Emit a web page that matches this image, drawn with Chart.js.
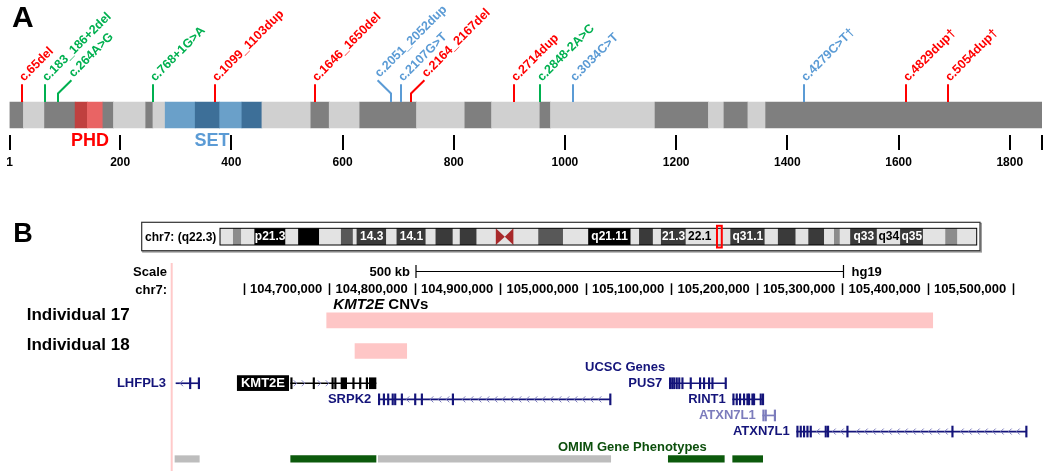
<!DOCTYPE html>
<html>
<head>
<meta charset="utf-8">
<script src="https://cdn.jsdelivr.net/npm/chart.js@4.4.1/dist/chart.umd.min.js"></script>
<style>
  body { margin: 0; background: #fff; width: 1050px; height: 471px; position: relative; overflow: hidden; }
  canvas { position: absolute; left: 0; }
  #protein { top: 0; }
  #ideo { top: 215px; }
  #genome { top: 255px; }
</style>
</head>
<body>
<canvas id="protein" width="1050" height="200"></canvas>
<canvas id="ideo" width="1050" height="42"></canvas>
<canvas id="genome" width="1050" height="216"></canvas>
<script>
// ---------- panel A: KMT2E protein (amino acids) ----------
const proteinLength = 1858;
const axisTicks = [1, 200, 400, 600, 800, 1000, 1200, 1400, 1600, 1800];
const segStart = [1, 26, 64, 119, 141, 169, 188, 246, 259, 281, 335, 379, 419, 455, 543, 576, 631, 733, 820, 868, 955, 974, 1162, 1258, 1286, 1329, 1361];
const segEnd   = [26, 64, 119, 141, 169, 188, 246, 259, 281, 335, 379, 419, 455, 543, 576, 631, 733, 820, 868, 955, 974, 1162, 1258, 1286, 1329, 1361, 1858];
const segKind  = ['dark', 'light', 'dark', 'phdDark', 'phdLight', 'dark', 'light', 'dark', 'light', 'setLight', 'setDark', 'setLight', 'setDark',
                  'light', 'dark', 'light', 'dark', 'light', 'dark', 'light', 'dark', 'light', 'dark', 'light', 'dark', 'light', 'dark'];
const domainNames = ['PHD', 'SET'];
const domainCenter = [146, 365];

const variantLabels = ['c.65del', 'c.183_186+2del', 'c.264A>G', 'c.768+1G>A', 'c.1099_1103dup', 'c.1646_1650del', 'c.2051_2052dup',
                       'c.2107G>T', 'c.2164_2167del', 'c.2714dup', 'c.2848-2A>C', 'c.3034C>T', 'c.4279C>T†', 'c.4829dup†', 'c.5054dup†'];
const variantPos  = [23, 64, 88, 259, 370, 550, 688, 705, 724, 908, 955, 1014, 1430, 1614, 1689];
const variantType = ['fs', 'splice', 'splice', 'splice', 'fs', 'fs', 'ms', 'ms', 'fs', 'fs', 'splice', 'ms', 'ms', 'fs', 'fs'];

// ---------- panel B: chr7 ideogram (Mb, hg19) ----------
const bandNames = ['p22.3', 'p22.2', 'p22.1', 'p21.3', 'p21.2', 'p21.1', 'p15.3', 'p15.2', 'p15.1', 'p14.3', 'p14.2', 'p14.1', 'p13', 'p12.3', 'p12.2',
                   'p12.1', 'p11.2', 'p11.1', 'q11.1', 'q11.21', 'q11.22', 'q11.23', 'q21.11', 'q21.12', 'q21.13', 'q21.2', 'q21.3', 'q22.1', 'q22.2',
                   'q22.3', 'q31.1', 'q31.2', 'q31.31', 'q31.32', 'q31.33', 'q32.1', 'q32.2', 'q32.3', 'q33', 'q34', 'q35', 'q36.1', 'q36.2', 'q36.3'];
const bandStart = [0, 2.8, 4.5, 7.3, 13.8, 16.5, 20.9, 25.5, 28.0, 28.8, 35.0, 37.2, 43.3, 45.4, 49.0, 50.5, 54.0, 58.0, 59.9, 61.7, 67.0, 72.2,
                   77.5, 86.4, 88.2, 91.1, 92.8, 98.0, 103.8, 104.5, 107.4, 114.6, 117.4, 121.1, 123.8, 127.1, 129.2, 130.4, 132.6, 138.2, 143.1,
                   147.9, 152.6, 155.1];
const bandEnd = [2.8, 4.5, 7.3, 13.8, 16.5, 20.9, 25.5, 28.0, 28.8, 35.0, 37.2, 43.3, 45.4, 49.0, 50.5, 54.0, 58.0, 59.9, 61.7, 67.0, 72.2, 77.5,
                 86.4, 88.2, 91.1, 92.8, 98.0, 103.8, 104.5, 107.4, 114.6, 117.4, 121.1, 123.8, 127.1, 129.2, 130.4, 132.6, 138.2, 143.1, 147.9,
                 152.6, 155.1, 159.14];
const bandStain = ['gneg', 'gpos25', 'gneg', 'gpos100', 'gneg', 'gpos100', 'gneg', 'gpos50', 'gneg', 'gpos75', 'gneg', 'gpos75', 'gneg', 'gpos75',
                   'gneg', 'gpos75', 'gneg', 'acen', 'acen', 'gneg', 'gpos50', 'gneg', 'gpos100', 'gneg', 'gpos75', 'gneg', 'gpos75', 'gneg', 'gneg',
                   'gneg', 'gpos75', 'gneg', 'gpos75', 'gneg', 'gpos75', 'gneg', 'gpos25', 'gneg', 'gpos75', 'gneg', 'gpos75', 'gneg', 'gpos25', 'gneg'];
const bandTextOf = ['p21.3', 'p14.3', 'p14.1', 'q21.11', 'q21.3', 'q22.1', 'q31.1', 'q33', 'q34', 'q35'];
const bandText   = ['p21.3', '14.3', '14.1', 'q21.11', '21.3', '22.1', 'q31.1', 'q33', 'q34', 'q35'];
const viewedRegionMb = [104.52, 105.53];

// ---------- panel B: browser tracks (bp, hg19) ----------
const genomeTicks = [104600000, 104700000, 104800000, 104900000, 105000000, 105100000, 105200000, 105300000, 105400000, 105500000];
const scaleBarStart = 104801400;
const scaleBarLength = 500000;

const cnvLabels = ['Individual 17', 'Individual 18'];
const cnvStart = [104696960, 104730060];
const cnvEnd   = [105405740, 104790530];
const cnvRow   = [0.1, 2];

const geneNames  = ['LHFPL3', 'KMT2E', 'SRPK2', 'PUS7', 'RINT1', 'ATXN7L1', 'ATXN7L1'];
const geneStart  = [104520700, 104654850, 104757310, 105097660, 105171810, 105206900, 105246670];
const geneEnd    = [104547950, 104754620, 105029120, 105163630, 105207610, 105221290, 105515680];
const geneRow    = [4, 4, 5, 4, 5, 6, 7];
const geneStrand = ['-', '+', '-', '-', '+', '-', '-'];
const geneExons = [
  [[104536400, 104537800], [104546600, 104547950]],
  [[104654850, 104656200], [104681000, 104682300], [104703000, 104704300], [104706200, 104707500], [104713680, 104720350],
   [104727400, 104728700], [104735300, 104736600], [104743100, 104744400], [104746780, 104754620]],
  [[104757310, 104759000], [104763000, 104764200], [104768000, 104769300], [104773300, 104774600], [104776200, 104777500],
   [104784000, 104785300], [104799600, 104800900], [104807400, 104808700], [104843700, 104845000], [105027800, 105029120]],
  [[105097660, 105098900], [105100230, 105101400], [105102570, 105103700], [105105490, 105106700], [105108420, 105109600],
   [105112160, 105113400], [105121870, 105123100], [105132750, 105134000], [105137430, 105138700], [105143280, 105144500],
   [105147260, 105148500], [105162800, 105163630]],
  [[105171810, 105173000], [105175670, 105176900], [105179540, 105180700], [105184210, 105185400], [105188190, 105189400],
   [105190060, 105191200], [105194040, 105195200], [105195910, 105197100], [105203740, 105204900], [105206400, 105207610]],
  [[105206900, 105208200], [105209590, 105210800], [105220300, 105221290]],
  [[105246670, 105248400], [105250530, 105251700], [105254390, 105255600], [105258370, 105259500], [105262230, 105263400],
   [105279770, 105281000], [105282460, 105283700], [105305150, 105306300], [105427960, 105429200], [105514400, 105515680]]
];
const omimStart = [104519500, 104654850, 104757310, 105096490, 105171810];
const omimEnd   = [104547950, 104754620, 105029120, 105161990, 105206900];
const omimHasPhenotype = [false, true, false, true, true];
const omimRow = 8.7;

// ---------- styles ----------
const FONT = "'Liberation Sans', Arial, Helvetica, sans-serif";
Chart.defaults.font.family = FONT;
Chart.defaults.color = '#000';
const segInk = { dark: '#7f7f7f', light: '#d0d0d0', phdDark: '#c0403f', phdLight: '#e96464', setLight: '#6aa0c9', setDark: '#3d6f98' };
const typeInk = { fs: '#ff0000', splice: '#00b050', ms: '#5b9bd5' };
const domainInk = ['#ff0000', '#5b9bd5'];
const leaderShift = { 'c.264A>G': 13.4, 'c.2051_2052dup': -13.4, 'c.2164_2167del': 13.4 };
const stainInk = { gneg: '#e3e3e3', gpos25: '#8c8c8c', gpos50: '#585858', gpos75: '#3a3a3a', gpos100: '#000000', acen: '#e3e3e3' };
const geneInk = ['#14147a', '#000000', '#14147a', '#14147a', '#14147a', '#7c7cbc', '#14147a'];
const chevronInk = ['#6a6ab4', '#8c8cd0', '#7a7abc', '#7a7abc', '#7a7abc', '#9a9ad0', '#7a7abc'];
const highlightGene = 'KMT2E';
const cnvInk = '#fec6c6';
const omimInk = ['#bdbdbd', '#0c5a0c'];

// ---------- chart A ----------
const proteinDecor = {
  id: 'proteinDecor',
  afterDraw(chart) {
    const { ctx } = chart;
    const x = chart.scales.x;
    const bar = chart.getDatasetMeta(0).data[0];
    const barTop = bar.y - bar.height / 2;
    const barBottom = bar.y + bar.height / 2;
    ctx.save();
    ctx.fillStyle = '#000';
    ctx.font = 'bold 30px ' + FONT;
    ctx.textAlign = 'left';
    ctx.textBaseline = 'alphabetic';
    ctx.fillText('A', 12, 26.7);

    ctx.font = 'bold 18px ' + FONT;
    ctx.textAlign = 'center';
    ctx.textBaseline = 'middle';
    domainNames.forEach((n, i) => {
      ctx.fillStyle = domainInk[i];
      ctx.fillText(n, x.getPixelForValue(domainCenter[i]), barBottom + 13);
    });

    ctx.font = 'bold 12.5px ' + FONT;
    ctx.textAlign = 'left';
    ctx.textBaseline = 'alphabetic';
    ctx.lineWidth = 2;
    variantLabels.forEach((lab, i) => {
      const px = Math.round(x.getPixelForValue(variantPos[i]));
      const ink = typeInk[variantType[i]];
      const shift = leaderShift[lab] || 0;
      ctx.strokeStyle = ink;
      ctx.fillStyle = ink;
      ctx.beginPath();
      ctx.moveTo(px, barTop);
      let ex = px, ey;
      if (shift) {
        ctx.lineTo(px, barTop - 8.5);
        ex = px + shift;
        ey = barTop - 21.7;
      } else {
        ey = barTop - 17.7;
      }
      ctx.lineTo(ex, ey);
      ctx.stroke();
      ctx.save();
      ctx.translate(ex + 2, ey - 2.5);
      ctx.rotate(-Math.PI / 4);
      ctx.fillText(lab, 0, 0);
      ctx.restore();
    });
    ctx.restore();
  }
};

new Chart(document.getElementById('protein'), {
  type: 'bar',
  data: {
    labels: ['KMT2E'],
    datasets: [{
      data: segStart.map((s, i) => ({ x: [s, segEnd[i]], y: 'KMT2E' })),
      backgroundColor: segKind.map(k => segInk[k]),
      borderWidth: 0,
      barThickness: 26,
      grouped: false
    }]
  },
  options: {
    indexAxis: 'y',
    responsive: false,
    animation: false,
    events: [],
    layout: { padding: { left: 9.5, right: 8, top: 95, bottom: 0 } },
    plugins: { legend: { display: false }, tooltip: { enabled: false } },
    scales: {
      x: {
        type: 'linear',
        min: 1,
        max: proteinLength,
        afterBuildTicks: (s) => { s.ticks = axisTicks.concat([proteinLength]).map(v => ({ value: v })); },
        afterFit: (s) => { s.height = 65; },
        grid: { display: true, drawOnChartArea: false, drawTicks: true, tickLength: 15, lineWidth: 2, color: '#000' },
        border: { display: false },
        ticks: {
          padding: 5.5,
          autoSkip: false,
          maxRotation: 0,
          font: { size: 12, weight: 'bold' },
          color: '#000',
          callback: (v) => axisTicks.includes(v) ? String(v) : ''
        }
      },
      y: { type: 'category', display: false }
    }
  },
  plugins: [proteinDecor]
});

// ---------- chart B1: ideogram ----------
const ideoDecor = {
  id: 'ideoDecor',
  beforeDatasetsDraw(chart) {
    const { ctx, chartArea: a } = chart;
    ctx.save();
    ctx.fillStyle = '#000';
    ctx.font = 'bold 27px ' + FONT;
    ctx.textAlign = 'left';
    ctx.textBaseline = 'alphabetic';
    ctx.fillText('B', 13.3, 27.3);
    // framed box
    const bx = a.left - 78.3, by = 7.3, bw = a.right + 3.3 - bx, bh = 28.4;
    ctx.strokeStyle = '#9a9a9a';
    ctx.lineWidth = 1.5;
    ctx.strokeRect(bx + 1.2, by + 1.2, bw, bh);
    ctx.fillStyle = '#fff';
    ctx.fillRect(bx, by, bw, bh);
    ctx.strokeStyle = '#333';
    ctx.lineWidth = 1.2;
    ctx.strokeRect(bx, by, bw, bh);
    ctx.fillStyle = '#000';
    ctx.font = 'bold 12px ' + FONT;
    ctx.textBaseline = 'middle';
    ctx.fillText('chr7: (q22.3)', bx + 3.3, (a.top + a.bottom) / 2 + 1);
    ctx.restore();
  },
  afterDatasetsDraw(chart) {
    const { ctx, chartArea: a } = chart;
    const x = chart.scales.x;
    ctx.save();
    // centromere
    ctx.fillStyle = '#a8282a';
    bandNames.forEach((n, i) => {
      if (bandStain[i] !== 'acen') return;
      const l = x.getPixelForValue(bandStart[i]), r = x.getPixelForValue(bandEnd[i]);
      const mid = (a.top + a.bottom) / 2;
      ctx.beginPath();
      if (n.startsWith('p')) { ctx.moveTo(l, a.top); ctx.lineTo(r, mid); ctx.lineTo(l, a.bottom); }
      else { ctx.moveTo(r, a.top); ctx.lineTo(l, mid); ctx.lineTo(r, a.bottom); }
      ctx.closePath();
      ctx.fill();
    });
    ctx.strokeStyle = '#000';
    ctx.lineWidth = 1;
    ctx.strokeRect(a.left, a.top, a.right - a.left, a.bottom - a.top);
    // band labels
    ctx.font = 'bold 12px ' + FONT;
    ctx.textAlign = 'center';
    ctx.textBaseline = 'middle';
    bandTextOf.forEach((b, k) => {
      const i = bandNames.indexOf(b);
      const l = x.getPixelForValue(bandStart[i]), r = x.getPixelForValue(bandEnd[i]);
      ctx.fillStyle = bandStain[i] === 'gneg' ? '#000' : '#fff';
      ctx.fillText(bandText[k], (l + r) / 2, (a.top + a.bottom) / 2 + 0.5);
    });
    // viewed region
    const hl = x.getPixelForValue(viewedRegionMb[0]), hr = x.getPixelForValue(viewedRegionMb[1]);
    ctx.strokeStyle = '#ff0000';
    ctx.lineWidth = 2;
    ctx.strokeRect(hl, a.top - 2.5, hr - hl, a.bottom - a.top + 5);
    ctx.restore();
  }
};

new Chart(document.getElementById('ideo'), {
  type: 'bar',
  data: {
    labels: ['chr7'],
    datasets: [{
      data: bandStart.map((s, i) => ({ x: [s, bandEnd[i]], y: 'chr7' })),
      backgroundColor: bandStain.map(s => stainInk[s]),
      borderWidth: 0,
      barPercentage: 1,
      categoryPercentage: 1,
      grouped: false
    }]
  },
  options: {
    indexAxis: 'y',
    responsive: false,
    animation: false,
    events: [],
    layout: { padding: { left: 220, right: 73.3, top: 13.3, bottom: 12 } },
    plugins: { legend: { display: false }, tooltip: { enabled: false } },
    scales: {
      x: { type: 'linear', min: 0, max: 159.14, display: false },
      y: { type: 'category', display: false }
    }
  },
  plugins: [ideoDecor]
});

// ---------- chart B2: genome browser tracks ----------
const exonData = [], exonColors = [];
geneExons.forEach((list, i) => list.forEach(([s, e]) => {
  exonData.push({ x: [s, e], y: geneRow[i] });
  exonColors.push(geneInk[i]);
}));

const trackDecor = {
  id: 'trackDecor',
  beforeDatasetsDraw(chart) {
    const { ctx, chartArea: a } = chart;
    ctx.save();
    ctx.strokeStyle = '#ffcaca';
    ctx.lineWidth = 2;
    ctx.beginPath();
    ctx.moveTo(a.left - 0.3, 8);
    ctx.lineTo(a.left - 0.3, chart.height);
    ctx.stroke();
    ctx.restore();
  },
  afterDatasetsDraw(chart) {
    const { ctx, chartArea: a } = chart;
    const x = chart.scales.x, yS = chart.scales.y;
    ctx.save();
    ctx.fillStyle = '#000';
    ctx.strokeStyle = '#000';
    ctx.font = 'bold 13px ' + FONT;
    ctx.textBaseline = 'middle';
    // scale row
    ctx.textAlign = 'right';
    ctx.fillText('Scale', a.left - 5, a.top - 27.3);
    ctx.fillText('chr7:', a.left - 5, a.top - 9.3);
    const sl = x.getPixelForValue(scaleBarStart), sr = x.getPixelForValue(scaleBarStart + scaleBarLength);
    const sy = a.top - 28.5;
    ctx.lineWidth = 1.2;
    ctx.beginPath();
    ctx.moveTo(sl, sy); ctx.lineTo(sr, sy);
    ctx.moveTo(sl, sy - 6.5); ctx.lineTo(sl, sy + 6.5);
    ctx.moveTo(sr, sy - 6.5); ctx.lineTo(sr, sy + 6.5);
    ctx.stroke();
    ctx.fillText((scaleBarLength / 1000) + ' kb', sl - 6, a.top - 27.3);
    ctx.textAlign = 'left';
    ctx.fillText('hg19', sr + 8, a.top - 27.3);
    // base position tick marks
    ctx.lineWidth = 1.5;
    genomeTicks.forEach(v => {
      const px = Math.round(x.getPixelForValue(v)) + 0.5;
      ctx.beginPath();
      ctx.moveTo(px, a.top - 16.7);
      ctx.lineTo(px, a.top - 5);
      ctx.stroke();
    });
    // CNV track
    ctx.font = 'bold 17px ' + FONT;
    cnvLabels.forEach((l, i) => ctx.fillText(l, 26.7, yS.getPixelForValue(cnvRow[i]) - 5.5));
    const tx = x.getPixelForValue(cnvStart[0]) + 6.6, ty = yS.getPixelForValue(cnvRow[0]) - 16;
    ctx.font = 'italic bold 15px ' + FONT;
    ctx.fillText('KMT2E', tx, ty);
    const w = ctx.measureText('KMT2E ').width;
    ctx.font = 'bold 15px ' + FONT;
    ctx.fillText('CNVs', tx + w, ty);
    // track titles
    ctx.font = 'bold 13px ' + FONT;
    ctx.fillStyle = '#14147a';
    ctx.fillText('UCSC Genes', 585, yS.getPixelForValue(3));
    ctx.fillStyle = '#0c4f0c';
    ctx.fillText('OMIM Gene Phenotypes', 558, yS.getPixelForValue(8));
    // chevrons on introns
    ctx.lineWidth = 1;
    geneNames.forEach((n, i) => {
      const y = yS.getPixelForValue(geneRow[i]);
      const gl = x.getPixelForValue(geneStart[i]), gr = x.getPixelForValue(geneEnd[i]);
      const ex = geneExons[i].map(([s, e]) => [x.getPixelForValue(s) - 3, x.getPixelForValue(e) + 3]);
      const d = geneStrand[i] === '+' ? -1 : 1;
      ctx.strokeStyle = chevronInk[i];
      for (let cx = gl + 5; cx < gr - 3; cx += 8) {
        if (ex.some(([l, r]) => cx >= l && cx <= r)) continue;
        ctx.beginPath();
        ctx.moveTo(cx + 2 * d, y - 3);
        ctx.lineTo(cx - d, y);
        ctx.lineTo(cx + 2 * d, y + 3);
        ctx.stroke();
      }
    });
    // gene names
    ctx.font = 'bold 13px ' + FONT;
    geneNames.forEach((n, i) => {
      const y = yS.getPixelForValue(geneRow[i]);
      const gl = x.getPixelForValue(geneStart[i]);
      if (n === highlightGene) {
        const bw = ctx.measureText(n).width + 8;
        const br = gl - 1.7;
        ctx.fillStyle = '#000';
        ctx.fillRect(br - bw, y - 8, bw, 15.7);
        ctx.fillStyle = '#fff';
        ctx.textAlign = 'center';
        ctx.fillText(n, br - bw / 2, y + 0.2);
      } else {
        ctx.fillStyle = geneInk[i];
        ctx.textAlign = 'right';
        // labels of genes at the window edge sit in the left gutter
        const rx = gl - a.left < 20 ? a.left - 6 : gl - 7;
        ctx.fillText(n, rx, y);
      }
    });
    ctx.restore();
  }
};

new Chart(document.getElementById('genome'), {
  type: 'bar',
  data: {
    datasets: [
      {
        data: cnvStart.map((s, i) => ({ x: [s, cnvEnd[i]], y: cnvRow[i] })),
        backgroundColor: cnvInk, barThickness: 15
      },
      {
        data: geneNames.map((n, i) => ({ x: [geneStart[i], geneEnd[i]], y: geneRow[i] })),
        backgroundColor: geneInk, barThickness: 1
      },
      {
        data: exonData,
        backgroundColor: exonColors, barThickness: 11, minBarLength: 1.5
      },
      {
        data: omimStart.map((s, i) => ({ x: [s, omimEnd[i]], y: omimRow })),
        backgroundColor: omimHasPhenotype.map(p => p ? omimInk[1] : omimInk[0]), barThickness: 6.5
      }
    ]
  },
  options: {
    indexAxis: 'y',
    responsive: false,
    animation: false,
    events: [],
    datasets: { bar: { grouped: false, borderWidth: 0 } },
    layout: { padding: { left: 172, right: 10, top: 25, bottom: 0 } },
    plugins: { legend: { display: false }, tooltip: { enabled: false } },
    scales: {
      x: {
        type: 'linear',
        position: 'top',
        min: 104516020,
        max: 105531230,
        afterBuildTicks: (s) => { s.ticks = genomeTicks.map(v => ({ value: v })); },
        afterFit: (s) => { s.height = 20; },
        grid: { display: false, drawTicks: false },
        border: { display: false },
        ticks: {
          align: 'end',
          labelOffset: -7,
          padding: 2.5,
          autoSkip: false,
          maxRotation: 0,
          font: { size: 13, weight: 'bold' },
          color: '#000',
          callback: (v) => v === genomeTicks[0] ? '' : v.toLocaleString('en-US')
        }
      },
      y: { type: 'linear', reverse: true, offset: false, min: -1.17, max: 9.45, display: false }
    }
  },
  plugins: [trackDecor]
});
</script>
</body>
</html>
